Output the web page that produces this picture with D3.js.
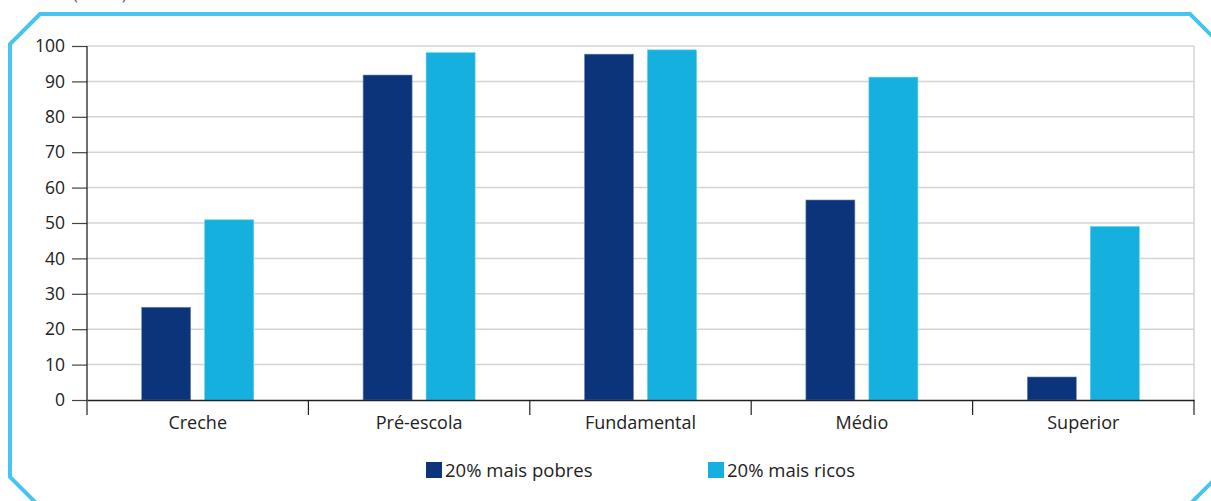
<!DOCTYPE html>
<html>
<head>
<meta charset="utf-8">
<script src="https://cdn.jsdelivr.net/npm/d3@7"></script>
<style>
  html, body { margin: 0; padding: 0; background: #fff; }
  svg { display: block; font-family: "Open Sans", "Noto Sans", sans-serif; }
</style>
</head>
<body>
<svg id="chart" width="1211" height="501"></svg>
<script>
const categories = ["Creche", "Pré-escola", "Fundamental", "Médio", "Superior"];
const seriesNames = ["20% mais pobres", "20% mais ricos"];
const poorest = [26.2, 91.8, 97.7, 56.5, 6.5];
const richest = [50.9, 98.1, 98.9, 91.2, 49.0];
const yTicks = [0, 10, 20, 30, 40, 50, 60, 70, 80, 90, 100];
const colors = ["#0b347a", "#15b0de"];

(function () {
const svg = d3.select("#chart");
const mLeft = 87, mRight = 1194, mTop = 46, mBottom = 400;

// frame
svg.append("polygon")
  .attr("points", [[40,14],[1190,14],[1214,38],[1214,480],[1191,503],[36,503],[10,477],[10,44]].map(p => p.join(",")).join(" "))
  .attr("fill", "none").attr("stroke", "#45c5f0").attr("stroke-width", 4).attr("stroke-linejoin", "miter");

// partially clipped subtitle at top (clipped in the reference too)
svg.append("text").attr("x", 73).attr("y", 0).attr("font-size", 17).attr("fill", "#666").text("(em %)");

const x0 = d3.scaleBand().domain(categories).range([mLeft, mRight]).paddingInner(0).paddingOuter(0);
const x1 = d3.scaleBand().domain(seriesNames).range([0, x0.bandwidth()]).paddingInner(14/63).paddingOuter(0.868);
const y = d3.scaleLinear().domain([0, 100]).range([mBottom, mTop]);

// gridlines
svg.append("g").selectAll("line").data(yTicks.filter(d => d > 0)).join("line")
  .attr("x1", mLeft).attr("x2", mRight)
  .attr("y1", d => y(d)).attr("y2", d => y(d))
  .attr("stroke", "#d4d4d4").attr("stroke-width", 1.5);
svg.append("line").attr("x1", mRight).attr("x2", mRight).attr("y1", y(100)).attr("y2", y(0))
  .attr("stroke", "#d4d4d4").attr("stroke-width", 1.5);

// bars
const data = categories.map((c, i) => ({ cat: c, vals: [poorest[i], richest[i]] }));
const groups = svg.append("g").selectAll("g").data(data).join("g")
  .attr("transform", d => `translate(${x0(d.cat)},0)`);
groups.selectAll("rect").data(d => d.vals.map((v, j) => ({ s: seriesNames[j], v, j }))).join("rect")
  .attr("x", d => x1(d.s)).attr("width", x1.bandwidth())
  .attr("y", d => y(d.v)).attr("height", d => y(0) - y(d.v))
  .attr("fill", d => colors[d.j])
  .attr("stroke", d => d.j === 0 ? "#6f8bb8" : "#5fcdef").attr("stroke-width", 0.6);

// y axis
const yAxis = d3.axisLeft(y).tickValues(yTicks).tickSize(15).tickPadding(7).tickFormat(d3.format("d"));
const gy = svg.append("g").attr("transform", `translate(${mLeft},0)`).call(yAxis);
gy.select(".domain").remove();
gy.selectAll(".tick line").attr("stroke", "#444").attr("stroke-width", 1.2);
gy.selectAll(".tick text").attr("font-size", 17.5).attr("fill", "#222").attr("font-family", "'Open Sans', sans-serif");
svg.append("line").attr("x1", mLeft).attr("x2", mLeft).attr("y1", y(100)).attr("y2", y(0))
  .attr("stroke", "#222").attr("stroke-width", 1.3);

// x axis
const gx = svg.append("g").attr("transform", `translate(0,${mBottom})`)
  .call(d3.axisBottom(x0).tickSize(0).tickPadding(16));
gx.select(".domain").attr("stroke", "#222").attr("stroke-width", 1.3);
gx.selectAll(".tick text").attr("font-size", 18).attr("fill", "#222").attr("font-family", "'Open Sans', sans-serif");
const boundaries = categories.map(c => x0(c)).concat([x0(categories[categories.length - 1]) + x0.bandwidth()]);
svg.append("g").selectAll("line").data(boundaries).join("line")
  .attr("x1", d => d).attr("x2", d => d).attr("y1", mBottom).attr("y2", mBottom + 15)
  .attr("stroke", "#222").attr("stroke-width", 1.2);

// legend
const legendX = [426, 708];
const lg = svg.append("g").selectAll("g").data(seriesNames).join("g")
  .attr("transform", (d, i) => `translate(${legendX[i]},462)`);
lg.append("rect").attr("width", 16).attr("height", 16).attr("fill", (d, i) => colors[i]);
lg.append("text").attr("x", 19).attr("y", 14.5).attr("font-size", 18.5).attr("fill", "#222").text(d => d);
})();
</script>
</body>
</html>
